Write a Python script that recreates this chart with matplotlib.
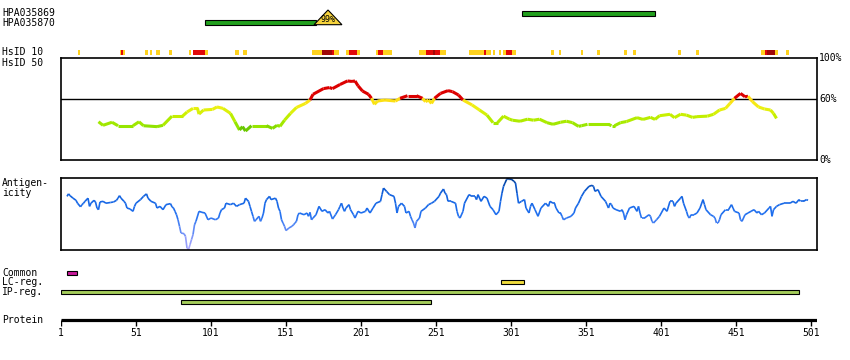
import numpy as np
import matplotlib
matplotlib.use("Agg")
import matplotlib.pyplot as plt
from matplotlib.collections import LineCollection
from matplotlib.colors import LinearSegmentedColormap
from matplotlib.patches import Polygon

####################################
############ Data ##################
####################################

protein_len = 505
tick_pos = [1, 51, 101, 151, 201, 251, 301, 351, 401, 451, 501]

# antibody tracks (residue start, end)
hpa_names = ["HPA035869", "HPA035870"]
hpa_start = [308, 97]
hpa_end = [397, 171]
hpa_marker_pos = 179
hpa_marker_label = "99%"

# HsID 10 strip: start, end, level (1 yellow, 2 red, 3 dark red)
hsid_start = [12, 40.3, 41, 42.3, 57, 60.3, 64.3, 73, 86.3, 89, 97, 117, 122.3,
              168.3, 175, 181.7, 183.3, 191, 193, 198.3, 211, 212, 215.7,
              239.7, 244, 249.3, 250, 253.7, 273, 283, 284.3, 289.3, 293, 295.7,
              297.7, 301.7, 327.7, 333, 347.7, 358.3, 376.3, 382.3, 412.3, 424,
              467.7, 470.3, 471.7, 477, 484.3]
hsid_end = [13.5, 41, 42.3, 43.5, 58.8, 61.5, 67, 74.8, 87.7, 97, 99, 119.7, 125,
            175, 181.7, 183.3, 186.3, 193, 198.3, 200.3, 212, 215.7, 221.7,
            244, 249.3, 250, 253.7, 257.7, 283, 284.3, 287.7, 290.3, 294.3, 297.7,
            301.7, 304, 329.7, 334.3, 349, 360.3, 378.3, 384.3, 414.3, 426.3,
            470.3, 471.7, 477, 479, 486.3]
hsid_level = [1, 1, 2, 1, 1, 1, 1, 1, 1, 2, 1, 1, 1,
              1, 3, 2, 1, 1, 2, 1, 1, 2, 1,
              1, 2, 3, 2, 1, 1, 2, 1, 1, 1, 1,
              2, 1, 1, 1, 1, 1, 1, 1, 1, 1,
              1, 2, 3, 1, 1]

# HsID 50 similarity (%)
sim_res = [26, 29, 35, 39, 49, 53, 56, 65, 69, 75, 82, 85, 89, 92, 93, 96, 102,
           105, 109, 114, 117, 120, 122, 124, 128, 138, 142, 145, 147, 150, 154,
           158, 164, 167, 169, 176, 180, 182, 187, 192, 195, 197, 199, 202, 206,
           208, 210, 212, 217, 224, 227, 232, 238, 242, 244, 246, 248, 250, 254,
           259, 262, 266, 269, 275, 280, 285, 289, 292, 296, 300, 302, 307, 312,
           316, 320, 325, 329, 334, 338, 342, 346, 348, 352, 366, 368, 370, 374,
           378, 385, 389, 394, 397, 400, 407, 410, 414, 418, 422, 425, 432, 436,
           440, 444, 447, 450, 454, 457, 459, 462, 466, 470, 474, 476, 478]
sim_val = [37.5, 34, 37, 33.6, 33.6, 37.5, 33.6, 32.7, 34, 43, 43, 47, 50.6, 50.6,
           45, 49, 49.6, 52, 50.6, 45.7, 37.5, 29.4, 32.7, 28.4, 33.6, 33.6, 31,
           34, 33, 39, 45.7, 51.5, 55.5, 58.8, 64.4, 70, 71, 70, 74, 77.5, 77,
           77.5, 72.8, 67.6, 64.4, 60.5, 54.6, 57.8, 58.8, 57.8, 60.5, 63, 63,
           60.5, 57.2, 58.8, 55.5, 60.5, 65.3, 68, 67, 63.7, 58.8, 54, 49, 44,
           36.6, 36.6, 43, 40, 39, 38, 40, 39, 40, 36.6, 35, 37, 38, 36.6, 33,
           33.6, 35, 35, 33.6, 33.6, 36.6, 37.7, 41.5, 39.8, 41.8, 39.8, 43.4,
           44.8, 41.5, 44.8, 44, 41.8, 42.5, 43, 44.8, 49, 50.6, 55.5, 60.5, 65.3,
           62, 62.5, 57.2, 52, 50, 49, 45.7, 40.8]

# antigenicity (relative score, 0-100)
ag_res = [5, 6, 7, 9, 11, 12, 14, 15, 16, 17, 19, 20, 21, 23, 24, 25, 26, 27, 29,
          31, 34, 36, 38, 39, 40, 41, 43, 44, 45, 47, 49, 50, 51, 54, 56, 58, 59,
          61, 64, 65, 67, 69, 71, 74, 75, 76, 77, 78, 79, 80, 81, 83, 84, 85, 86,
          87, 88, 89, 90, 91, 93, 95, 97, 99, 101, 104, 106, 107, 108, 110, 111,
          114, 116, 118, 120, 123, 124, 126, 127, 128, 129, 130, 131, 133, 134,
          135, 136, 137, 138, 140, 141, 144, 145, 146, 147, 148, 149, 150, 151,
          153, 155, 156, 157, 158, 159, 160, 163, 165, 166, 167, 168, 169, 171,
          173, 175, 177, 179, 180, 182, 184, 186, 187, 188, 189, 190, 191, 193,
          194, 196, 197, 199, 201, 204, 205, 207, 209, 211, 214, 215, 216, 218,
          220, 223, 224, 225, 226, 228, 230, 231, 233, 234, 235, 236, 237, 238,
          240, 241, 244, 246, 248, 250, 253, 254, 256, 257, 258, 259, 261, 264,
          265, 266, 267, 269, 270, 273, 275, 277, 278, 279, 281, 283, 285, 287,
          289, 291, 293, 294, 295, 296, 297, 298, 299, 300, 301, 303, 304, 305,
          306, 308, 310, 311, 313, 314, 315, 317, 319, 321, 324, 326, 327, 329,
          330, 331, 333, 334, 335, 336, 338, 341, 343, 344, 346, 348, 350, 353,
          355, 356, 357, 359, 361, 364, 365, 366, 367, 368, 369, 371, 374, 375,
          376, 377, 378, 380, 383, 385, 386, 387, 388, 390, 393, 394, 395, 396,
          398, 400, 403, 405, 407, 409, 410, 411, 414, 415, 416, 418, 419, 420,
          421, 423, 425, 427, 429, 430, 431, 434, 436, 437, 438, 439, 440, 441,
          444, 446, 448, 449, 450, 453, 454, 455, 457, 459, 461, 463, 465, 466,
          468, 470, 473, 474, 475, 476, 478, 480, 483, 485, 487, 489, 491, 493,
          494, 496, 498, 499]
ag_val = [74.5, 78, 75.5, 72, 69, 65, 60, 63, 65, 67.6, 72, 60.6, 65, 69, 66.7,
          58.3, 56, 66.7, 67.6, 65, 66, 66.7, 69, 72, 75.5, 72, 67.6, 65, 58.3,
          57, 53.7, 60.6, 65, 70, 74.5, 78, 72, 67.6, 65, 58.3, 60.6, 56, 63,
          64.4, 60, 58.3, 53.7, 49, 42, 33, 23.6, 22.7, 19, 2.8, 0.5, 7.4, 14.4,
          21.3, 35, 40, 53.7, 52.3, 51.4, 42, 44.4, 42, 44.4, 51.4, 56, 58.3,
          65, 63, 65, 60.6, 63, 65, 72, 67.6, 60.6, 53.7, 46.8, 39.8, 42, 46.8,
          39.8, 44.4, 51.4, 65, 70, 74.5, 70, 72, 67.6, 58.3, 53.7, 42, 37.5,
          33, 27, 30.6, 33, 35, 37.5, 40, 49, 51.4, 49, 51.4, 46.8, 52.3, 42,
          44.4, 49, 60.6, 53.7, 56, 51.4, 53.7, 43, 49, 56, 60.6, 65, 58.3,
          53.7, 58.3, 63, 56, 49, 44.4, 53.7, 51.4, 53.7, 58.3, 51.4, 58.3, 65,
          67.6, 76.9, 86, 81.5, 76.9, 74.5, 65, 51.4, 60.6, 65, 60.6, 51.4,
          53.7, 46.8, 42, 37.5, 30.6, 39.8, 44.4, 53.7, 58.3, 63, 65, 67.6,
          74.5, 79, 84.7, 79, 76.9, 67.6, 67.6, 65, 53.7, 46.8, 44.4, 53.7, 65,
          76.9, 74.5, 74.5, 70, 76.9, 67.6, 74.5, 72, 60.6, 56, 49, 53.7, 67.6,
          79, 88.4, 93, 97.7, 100, 97.7, 98.6, 95.4, 93, 79, 65, 67.6, 70, 58.3,
          51.4, 60.6, 65, 56, 46.8, 58.3, 65, 60.6, 67.6, 65, 65, 58.3, 51.4,
          51.4, 46.8, 42, 44.4, 46.8, 51.4, 58.3, 65, 74.5, 81.5, 88.4, 89.8,
          88.4, 81.5, 83.8, 74.5, 67.6, 63, 58.3, 65, 63, 58.3, 56, 53.7, 56,
          51.4, 42, 49, 58.3, 60.6, 53.7, 60.6, 51.4, 44.4, 44.4, 49, 46.8,
          39.8, 37.5, 42, 46.8, 58.3, 53.7, 67.6, 67.6, 60.6, 65, 72, 74.5, 65,
          53.7, 46.8, 44.4, 49, 49, 51.4, 58.3, 70, 63, 56, 49, 46.8, 44.4,
          37.5, 37.5, 42, 49, 56, 56, 63, 58.3, 53.7, 51.4, 42, 39.8, 49, 51.4,
          53.7, 56, 51.4, 53.7, 49, 51.4, 58.3, 60.6, 46.8, 56, 60.6, 63, 65,
          65, 65, 67.6, 65, 70, 67.6, 67.6, 70, 69]

# lower region tracks
reg_names = ["Common", "LC-reg.", "IP-reg.", ""]
reg_start = [5, 294, 1, 81]
reg_end = [11.7, 309.5, 492.8, 247.5]
reg_colors = ["#c8199b", "#f0dc3c", "#a5cd5a", "#a5cd5a"]

####################################
############ Plot ##################
####################################

W, H = 850, 360
fig = plt.figure(figsize=(W / 100, H / 100), dpi=100)
font = dict(family="DejaVu Sans Mono", fontsize=7)


def px_axes(x0, y0, x1, y1):
    return fig.add_axes([x0 / W, 1 - y1 / H, (x1 - x0) / W, (y1 - y0) / H])


def label(x, y, s, **kw):
    fig.text(x / W, 1 - y / H, s, va="center", **font, **kw)


# track axes, y in pixel rows
tr = px_axes(61, 0, 817, H)
tr.set_xlim(1, protein_len)
tr.set_ylim(H, 0)
tr.axis("off")
tr.patch.set_alpha(0)

# antibody bars
bar_y = [13.7, 22.4]
for i in range(len(hpa_names)):
    tr.barh(bar_y[i], hpa_end[i] - hpa_start[i], left=hpa_start[i], height=4.6,
            color="#22a01e", edgecolor="black", lw=0.8)
tri = Polygon([[hpa_marker_pos - 9.3, 24.7], [hpa_marker_pos, 10],
               [hpa_marker_pos + 9.3, 24.7]], closed=True,
              facecolor="#f5d23c", edgecolor="black", lw=0.8)
tr.add_patch(tri)
tr.text(hpa_marker_pos + 0.3, 19.8, hpa_marker_label, ha="center", va="center",
        family="DejaVu Sans Mono", fontsize=6)

# HsID 10 strip
lvl_colors = {1: "#ffd21e", 2: "#e10a0a", 3: "#a00a0a"}
for s, e, l in zip(hsid_start, hsid_end, hsid_level):
    tr.barh(52.3, e - s, left=s, height=5, color=lvl_colors[l], lw=0)

# region bars
reg_y = [272.7, 282.4, 292.4, 302.4]
for i in range(len(reg_start)):
    tr.barh(reg_y[i], reg_end[i] - reg_start[i], left=reg_start[i], height=4.2,
            color=reg_colors[i], edgecolor="black", lw=0.8)

# protein axis
tr.hlines(320, 1, protein_len, color="black", lw=2.3)
tr.vlines(tick_pos, 320, 326, color="black", lw=1)
for t in tick_pos:
    tr.text(t, 332.5, str(t), ha="center", va="center", **font)

# similarity panel
sim = px_axes(61, 58, 817, 160)
sim.set_xlim(1, protein_len)
sim.set_ylim(0, 100)
sim.set_xticks([])
sim.set_yticks([])
sim.axhline(60, color="black", lw=1)
sim_cmap = LinearSegmentedColormap.from_list(
    "sim", [(0, "#3caa00"), (0.17, "#96e600"), (0.5, "#c8f000"),
            (0.75, "#f0f014"), (1, "#ffdc14")])
pts = np.column_stack([sim_res, sim_val])
segs = np.stack([pts[:-1], pts[1:]], axis=1)
mid = (np.array(sim_val[:-1]) + np.array(sim_val[1:])) / 2
cols = [("#dc0000" if m > 60 else sim_cmap(np.clip((m - 28) / 32, 0, 1)))
        for m in mid]
sim.add_collection(LineCollection(segs, colors=cols, lw=2.2, capstyle="butt"))
yt = sim.get_yaxis_transform()
for v, s in [(100, "100%"), (60, "60%"), (0, "0%")]:
    sim.text(1.003, v, s, transform=yt, va="center", ha="left", **font)

# antigenicity panel
ag = px_axes(61, 178, 817, 250)
ag.set_xlim(1, protein_len)
ag.set_ylim(0, 100)
ag.set_xticks([])
ag.set_yticks([])
ag_cmap = LinearSegmentedColormap.from_list(
    "ag", [(0, "#b4aaff"), (0.3, "#5a88f5"), (0.5, "#2070f0"),
           (0.8, "#1060dc"), (1, "#003c96")])
pts = np.column_stack([ag_res, ag_val])
segs = np.stack([pts[:-1], pts[1:]], axis=1)
mid = (np.array(ag_val[:-1]) + np.array(ag_val[1:])) / 2
ag.add_collection(LineCollection(segs, colors=ag_cmap(mid / 100), lw=1.2))

for a in (sim, ag):
    for sp in a.spines.values():
        sp.set_linewidth(1.2)

# left labels
label(2, 12.7, hpa_names[0])
label(2, 22.7, hpa_names[1])
label(2, 52, "HsID 10")
label(2, 62.5, "HsID 50")
label(2, 183.3, "Antigen-")
label(2, 193.3, "icity")
for n, y in zip(reg_names, reg_y):
    if n:
        label(2, y, n)
label(2, 320, "Protein")

fig.savefig("out.png", dpi=100)
